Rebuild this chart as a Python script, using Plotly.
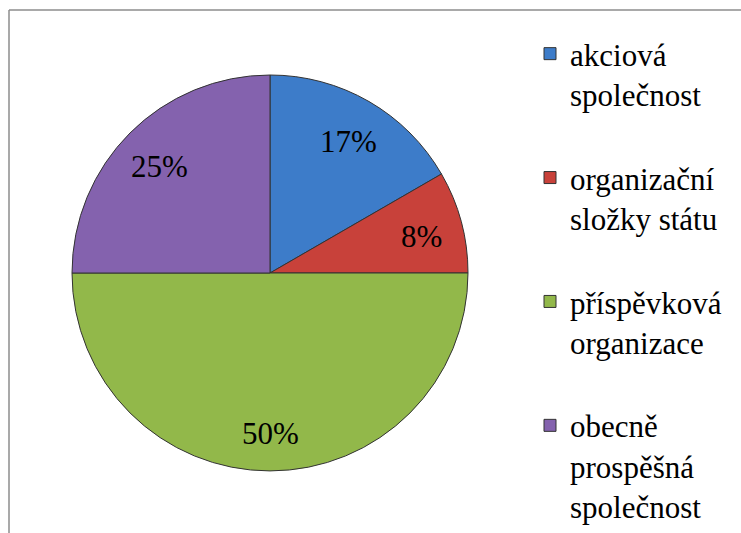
import math
import plotly.graph_objects as go

labels = ["akciová<br>společnost", "organizační<br>složky státu",
          "příspěvková<br>organizace", "obecně<br>prospěšná<br>společnost"]
values = [2, 1, 6, 3]
colors = ["#3D7CC9", "#C8413A", "#92B84A", "#8462AE"]

W, H = 741, 533
cx, cy, r = 270, 273, 198
SERIF = "Liberation Serif"

fig = go.Figure(go.Pie(
    labels=[l + "<br> " if l.count("<br>") == 1 else l for l in labels],
    values=values,
    sort=False,
    direction="clockwise",
    rotation=0,
    marker=dict(colors=colors, line=dict(color="#333333", width=1)),
    textinfo="none",
    hoverinfo="skip",
    domain=dict(x=[(cx - r) / W, (cx + r) / W], y=[(H - cy - r) / H, (H - cy + r) / H]),
))

# percentage labels placed along each slice bisector (derived from the values)
total = sum(values)
annotations = []
cum = 0
for v in values:
    mid = (cum + v / 2) / total * 2 * math.pi
    cum += v
    px = cx + 0.79 * r * math.sin(mid)
    py = cy - 0.79 * r * math.cos(mid)
    annotations.append(dict(
        x=px / W, y=1 - py / H, xref="paper", yref="paper",
        text=f"{round(v / total * 100)}%", showarrow=False,
        font=dict(family=SERIF, size=31, color="black"),
        xanchor="center", yanchor="middle", yshift=-4,
    ))

fig.update_layout(
    width=W, height=H,
    margin=dict(l=0, r=0, t=0, b=0),
    paper_bgcolor="white",
    showlegend=True,
    legend=dict(x=530 / W, y=1 - 35 / H, xanchor="left", yanchor="top",
                valign="top", maxheight=700,
                font=dict(family=SERIF, size=31, color="black"),
                bgcolor="rgba(0,0,0,0)"),
    annotations=annotations,
    shapes=[
        dict(type="line", xref="paper", yref="paper", x0=9 / W, x1=1, y0=1 - 10 / H, y1=1 - 10 / H,
             line=dict(color="#8C8C8C", width=1.5)),
        dict(type="line", xref="paper", yref="paper", x0=9 / W, x1=9 / W, y0=0, y1=1 - 10 / H,
             line=dict(color="#8C8C8C", width=1.5)),
    ],
)

fig.write_html("out.html", config={"displayModeBar": False},
               post_script="document.body.style.margin='0';")
